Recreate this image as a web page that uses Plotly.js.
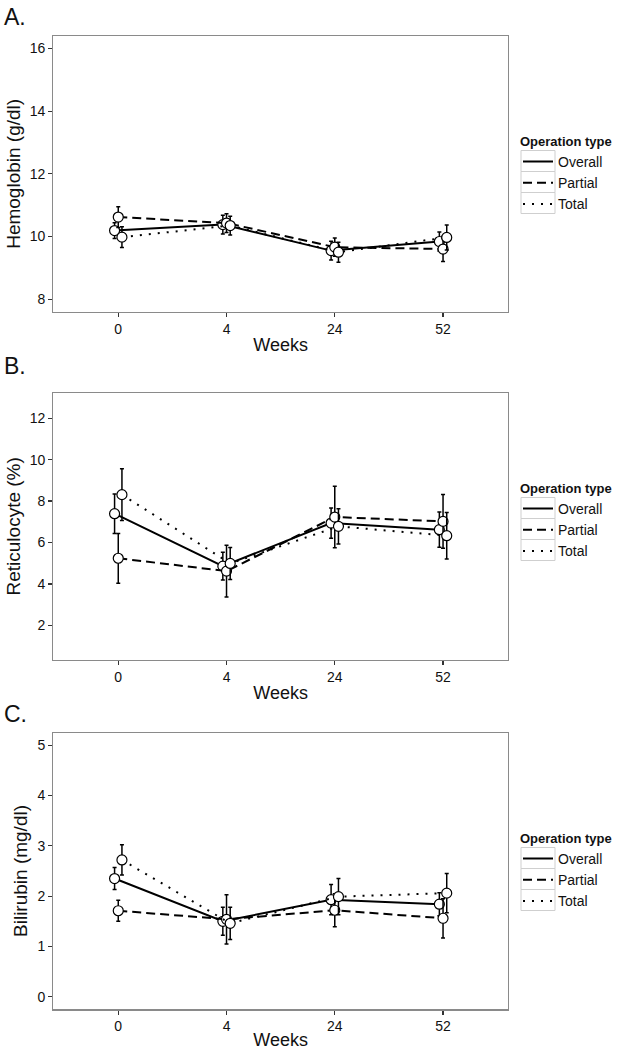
<!DOCTYPE html>
<html>
<head>
<meta charset="utf-8">
<script src="https://cdn.plot.ly/plotly-3.0.1.min.js"></script>
<style>html,body{margin:0;padding:0;background:#fff}#chart{width:620px;height:1050px}</style>
</head>
<body>
<div id="chart"></div>
<script>
// ---- Data ----
var weeks = ['0', '4', '24', '52'];
var groups = ['Overall', 'Partial', 'Total'];

// A. Hemoglobin (g/dl)
var hbOverall = [10.19, 10.38, 9.55, 9.84];
var hbOverallErr = [0.25, 0.30, 0.30, 0.30];
var hbPartial = [10.62, 10.43, 9.66, 9.60];
var hbPartialErr = [0.33, 0.30, 0.29, 0.40];
var hbTotal = [9.98, 10.35, 9.50, 9.97];
var hbTotalErr = [0.33, 0.30, 0.32, 0.40];

// B. Reticulocyte (%)
var retOverall = [7.39, 4.86, 6.94, 6.62];
var retOverallErr = [0.95, 0.67, 0.73, 0.85];
var retPartial = [5.24, 4.62, 7.23, 7.02];
var retPartialErr = [1.20, 1.25, 1.48, 1.30];
var retTotal = [8.31, 4.99, 6.78, 6.33];
var retTotalErr = [1.25, 0.77, 0.85, 1.12];

// C. Bilirubin (mg/dl)
var bilOverall = [2.35, 1.50, 1.93, 1.84];
var bilOverallErr = [0.22, 0.28, 0.30, 0.23];
var bilPartial = [1.71, 1.54, 1.72, 1.56];
var bilPartialErr = [0.21, 0.49, 0.33, 0.39];
var bilTotal = [2.72, 1.46, 1.99, 2.06];
var bilTotalErr = [0.30, 0.32, 0.36, 0.39];

// ---- Styling ----
var FONT = 'Liberation Sans, Arial, Helvetica, sans-serif';
var dashes = {Overall: 'solid', Partial: '9px,5px', Total: '2px,7px'};
var dodge = {Overall: -0.034, Partial: 0, Total: 0.034};

var panels = [
  {axis: '', legend: 'legend', data: {Overall: [hbOverall, hbOverallErr], Partial: [hbPartial, hbPartialErr], Total: [hbTotal, hbTotalErr]}},
  {axis: '2', legend: 'legend2', data: {Overall: [retOverall, retOverallErr], Partial: [retPartial, retPartialErr], Total: [retTotal, retTotalErr]}},
  {axis: '3', legend: 'legend3', data: {Overall: [bilOverall, bilOverallErr], Partial: [bilPartial, bilPartialErr], Total: [bilTotal, bilTotalErr]}}
];

var traces = [];
panels.forEach(function (p) {
  groups.forEach(function (g) {
    var vals = p.data[g][0], errs = p.data[g][1];
    var xs = weeks.map(function (w, i) { return i + dodge[g]; });
    traces.push({
      type: 'scatter', mode: 'lines+markers', name: g, showlegend: false,
      x: xs, y: vals, xaxis: 'x' + p.axis, yaxis: 'y' + p.axis,
      line: {color: '#000', width: 2, dash: dashes[g]},
      marker: {symbol: 'circle', size: 10, color: '#fff', line: {color: '#000', width: 1.2}},
      error_y: {type: 'data', array: errs, visible: true, color: '#000', thickness: 1.5, width: 2}
    });
  });
  groups.forEach(function (g) {
    traces.push({
      type: 'scatter', mode: 'lines', name: g, legend: p.legend,
      x: [null], y: [null], xaxis: 'x' + p.axis, yaxis: 'y' + p.axis,
      line: {color: '#000', width: 2, dash: dashes[g]}
    });
  });
});

var W = 620, H = 1050;
function px(v) { return v / W; }
function py(v) { return 1 - v / H; }

var xBase = {
  range: [-0.6, 3.6], tickmode: 'array', tickvals: [0, 1, 2, 3], ticktext: weeks,
  showgrid: false, zeroline: false, showline: true, mirror: true, linecolor: '#8a8a8a', linewidth: 1.2,
  ticks: 'outside', ticklen: 4, tickwidth: 1.2, tickcolor: '#333',
  tickfont: {family: FONT, size: 14, color: '#111'},
  title: {text: 'Weeks', font: {family: FONT, size: 18, color: '#111'}, standoff: 2},
  domain: [px(53.3), px(508)], fixedrange: true
};
function xAx(anchor) { var o = JSON.parse(JSON.stringify(xBase)); o.anchor = anchor; return o; }
function yAx(title, range, tickvals, dom, anchor) {
  return {
    range: range, tickmode: 'array', tickvals: tickvals, ticktext: tickvals.map(String),
    showgrid: false, zeroline: false, showline: true, mirror: true, linecolor: '#8a8a8a', linewidth: 1.2,
    ticks: 'outside', ticklen: 4, tickwidth: 1.2, tickcolor: '#333',
    tickfont: {family: FONT, size: 14, color: '#111'},
    title: {text: title, font: {family: FONT, size: 19, color: '#111'}, standoff: 4},
    domain: dom, anchor: anchor, fixedrange: true
  };
}

var legendTops = [129, 476, 826];
var LEG_X = 518;
function legendAt(top) {
  return {
    x: px(LEG_X), y: py(top), xanchor: 'left', yanchor: 'top',
    bgcolor: 'rgba(0,0,0,0)', borderwidth: 0,
    font: {family: FONT, size: 14, color: '#111'},
    title: {text: '<b>Operation type</b>', font: {family: FONT, size: 13, color: '#111'}},
    itemclick: false, itemdoubleclick: false
  };
}

// grey key boxes, ggplot-style legend keys
var shapes = [];
legendTops.forEach(function (t) {
  [32, 53, 74].forEach(function (c) {
    shapes.push({type: 'rect', xref: 'paper', yref: 'paper', layer: 'below',
      x0: px(LEG_X + 3), x1: px(LEG_X + 37), y0: py(t + c - 10.5), y1: py(t + c + 10.5),
      line: {color: '#cfcfcf', width: 1}, fillcolor: 'rgba(0,0,0,0)'});
  });
});

var layout = {
  width: W, height: H, margin: {l: 0, r: 0, t: 0, b: 0},
  paper_bgcolor: '#fff', plot_bgcolor: '#fff',
  font: {family: FONT, color: '#111'},
  xaxis: xAx('y'), xaxis2: xAx('y2'), xaxis3: xAx('y3'),
  yaxis: yAx('Hemoglobin (g/dl)', [7.6, 16.4], [8, 10, 12, 14, 16], [py(311.7), py(36)], 'x'),
  yaxis2: yAx('Reticulocyte (%)', [0.33, 13.23], [2, 4, 6, 8, 10, 12], [py(660), py(392.7)], 'x2'),
  yaxis3: yAx('Bilirubin (mg/dl)', [-0.25, 5.25], [0, 1, 2, 3, 4, 5], [py(1009.3), py(732.7)], 'x3'),
  legend: legendAt(legendTops[0]), legend2: legendAt(legendTops[1]), legend3: legendAt(legendTops[2]),
  showlegend: true,
  shapes: shapes,
  annotations: [
    {text: 'A.', x: px(2), y: py(17), xref: 'paper', yref: 'paper', xanchor: 'left', yanchor: 'middle', showarrow: false, font: {family: FONT, size: 23, color: '#111'}},
    {text: 'B.', x: px(2), y: py(366), xref: 'paper', yref: 'paper', xanchor: 'left', yanchor: 'middle', showarrow: false, font: {family: FONT, size: 23, color: '#111'}},
    {text: 'C.', x: px(2), y: py(714), xref: 'paper', yref: 'paper', xanchor: 'left', yanchor: 'middle', showarrow: false, font: {family: FONT, size: 23, color: '#111'}}
  ]
};

Plotly.newPlot('chart', traces, layout, {displayModeBar: false, staticPlot: true});
</script>
</body>
</html>
